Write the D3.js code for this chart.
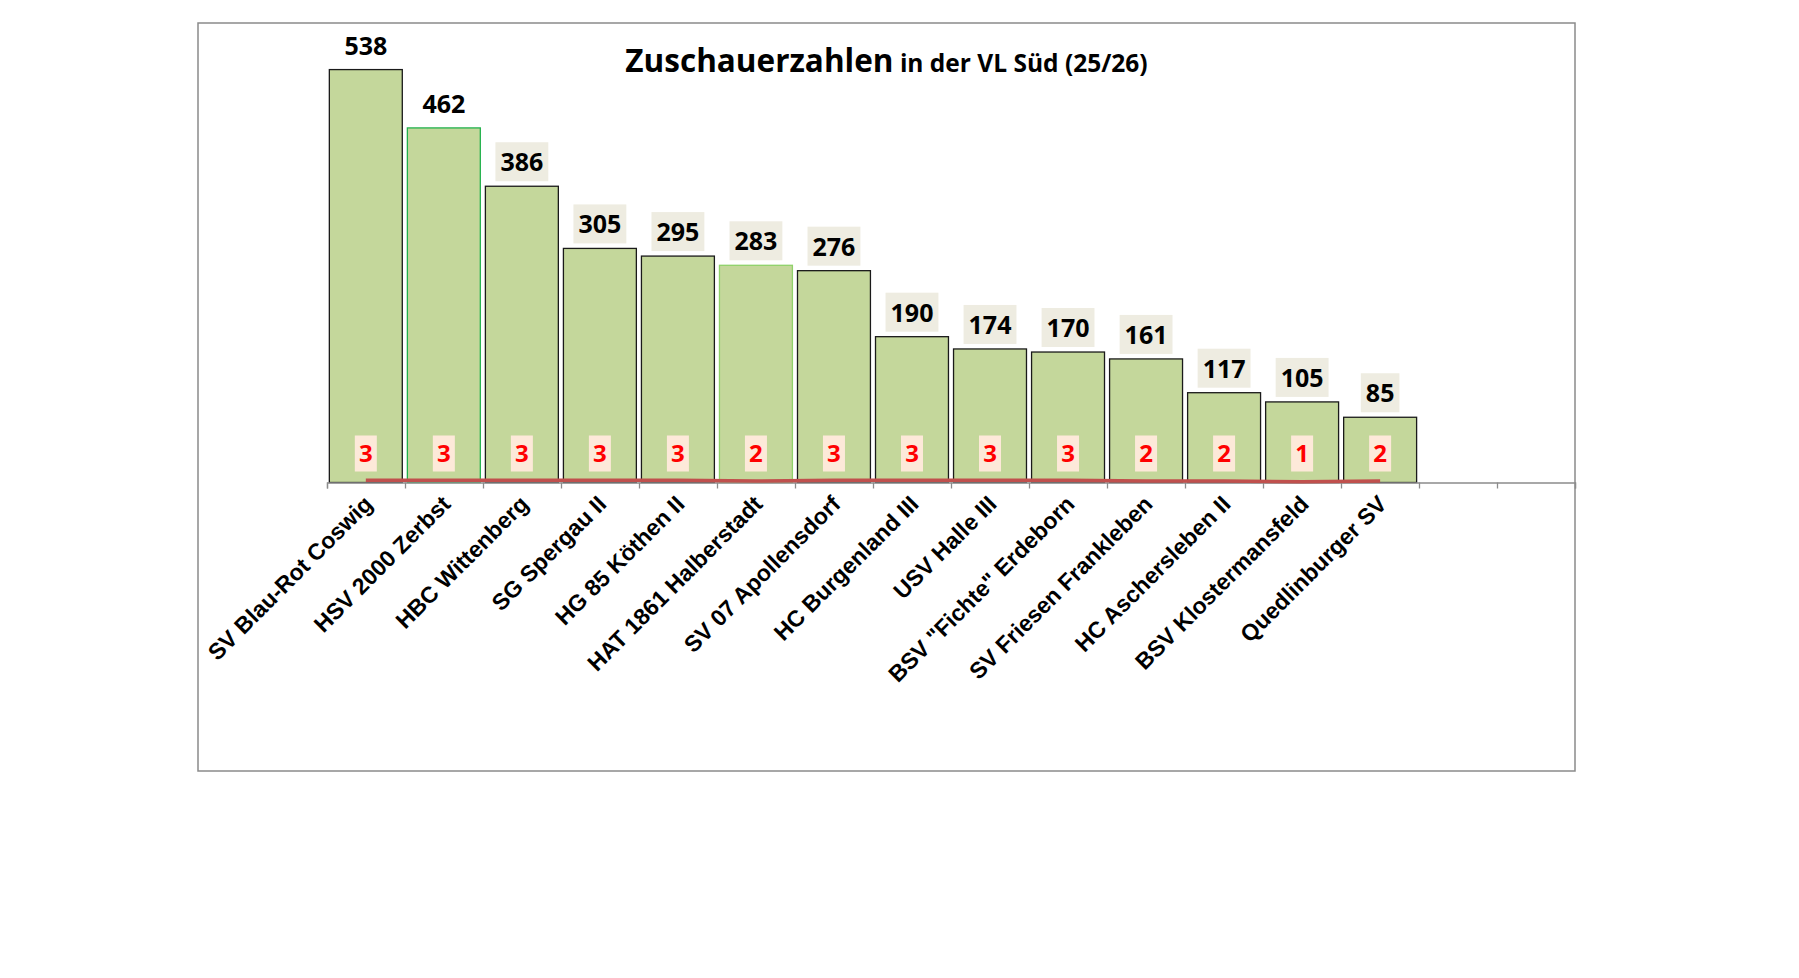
<!DOCTYPE html>
<html>
<head>
<meta charset="utf-8">
<title>Zuschauerzahlen VL Süd</title>
<script src="https://cdn.jsdelivr.net/npm/d3@7"></script>
<style>
    body { margin: 0; background: #fff; }
    svg { display: block; }
</style>
</head>
<body>
<div id="chart"></div>
<script>
// Data
const teams = [
    "SV Blau-Rot Coswig", "HSV 2000 Zerbst", "HBC Wittenberg", "SG Spergau II",
    "HG 85 Köthen II", "HAT 1861 Halberstadt", "SV 07 Apollensdorf", "HC Burgenland III",
    "USV Halle III", 'BSV "Fichte" Erdeborn', "SV Friesen Frankleben", "HC Aschersleben II",
    "BSV Klostermansfeld", "Quedlinburger SV"
];
const spectators = [538, 462, 386, 305, 295, 283, 276, 190, 174, 170, 161, 117, 105, 85];
const games = [3, 3, 3, 3, 3, 2, 3, 3, 3, 3, 2, 2, 1, 2];
const emptySlots = ["_e1", "_e2"];   // two unused category slots at the end of the axis

const width = 1799, height = 978;
const frame = { left: 198, top: 23, right: 1575, bottom: 771 };
const plot = { left: 327, right: 1575, top: 22, bottom: 482.5 };

const svg = d3.select("#chart").append("svg")
    .attr("width", width)
    .attr("height", height);

// Outer chart frame
svg.append("rect")
    .attr("x", frame.left)
    .attr("y", frame.top)
    .attr("width", frame.right - frame.left)
    .attr("height", frame.bottom - frame.top)
    .attr("fill", "#fff")
    .attr("stroke", "#8a8a8a")
    .attr("stroke-width", 1.5);

const x = d3.scaleBand()
    .domain(teams.concat(emptySlots))
    .range([plot.left, plot.right])
    .paddingInner(0.065)
    .paddingOuter(0.03);

const y = d3.scaleLinear()
    .domain([0, 600])
    .range([plot.bottom, plot.top]);

const data = teams.map((t, i) => ({ team: t, value: spectators[i], games: games[i], i: i }));

// Bars
const strokeFor = d => d.i === 1 ? "#22b14c" : (d.i === 5 ? "#8fd16a" : "#1a1a1a");

svg.append("g")
    .selectAll("rect")
    .data(data)
    .enter().append("rect")
    .attr("x", d => x(d.team))
    .attr("y", d => y(d.value))
    .attr("width", x.bandwidth())
    .attr("height", d => y(0) - y(d.value))
    .attr("fill", "#c4d79b")
    .attr("stroke", strokeFor)
    .attr("stroke-width", 1.3);

// Category axis: ticks sit on the category boundaries
const edge = d3.scaleLinear()
    .domain([0, x.domain().length])
    .range([plot.left, plot.right]);

const axis = svg.append("g")
    .attr("transform", `translate(0,${y(0)})`)
    .call(d3.axisBottom(edge).ticks(x.domain().length).tickSize(6).tickFormat(""));
axis.select(".domain").attr("stroke", "#8c8c8c").attr("stroke-width", 1.3);
axis.selectAll(".tick line").attr("stroke", "#8c8c8c").attr("stroke-width", 1.3);

// Rotated category labels
svg.append("g")
    .selectAll("text")
    .data(data)
    .enter().append("text")
    .attr("transform", d => `translate(${x(d.team) + x.bandwidth() / 2 + 8},${y(0) + 23}) rotate(-45)`)
    .attr("text-anchor", "end")
    .attr("font-family", "'Liberation Sans', Arial, sans-serif")
    .attr("font-weight", "bold")
    .attr("font-size", 23)
    .attr("fill", "#000")
    .text(d => d.team);

// Games line (second series) along the bottom
const line = d3.line()
    .x(d => x(d.team) + x.bandwidth() / 2)
    .y(d => y(d.games));

svg.append("path")
    .datum(data)
    .attr("d", line)
    .attr("fill", "none")
    .attr("stroke", "#c0504d")
    .attr("stroke-width", 3.5);

// Games labels (red, in pale boxes)
const gameLabels = svg.append("g")
    .selectAll("g")
    .data(data)
    .enter().append("g")
    .attr("transform", d => `translate(${x(d.team) + x.bandwidth() / 2},${y(0) - 29})`);

gameLabels.append("rect")
    .attr("x", -11)
    .attr("y", -18)
    .attr("width", 22)
    .attr("height", 36)
    .attr("fill", "#fde9d9");

gameLabels.append("text")
    .attr("text-anchor", "middle")
    .attr("y", 8.5)
    .attr("font-family", "'Open Sans', sans-serif")
    .attr("font-weight", "bold")
    .attr("font-size", 24)
    .attr("fill", "#ff0000")
    .text(d => d.games);

// Value labels above the bars
const valueLabels = svg.append("g")
    .selectAll("g")
    .data(data)
    .enter().append("g")
    .attr("transform", d => `translate(${x(d.team) + x.bandwidth() / 2},${y(d.value)})`);

const boxes = valueLabels.append("rect")
    .attr("fill", d => d.i < 2 ? "#ffffff" : "#eeece1");

const valueTexts = valueLabels.append("text")
    .attr("text-anchor", "middle")
    .attr("y", -15)
    .attr("font-family", "'Open Sans', sans-serif")
    .attr("font-weight", "bold")
    .attr("font-size", 25)
    .attr("fill", "#000")
    .text(d => d.value);

valueTexts.each(function(d, i) {
    const w = this.getComputedTextLength() + 10;
    d3.select(boxes.nodes()[i])
        .attr("x", -w / 2)
        .attr("y", -44)
        .attr("width", w)
        .attr("height", 39);
});

// Title
const title = svg.append("text")
    .attr("x", (frame.left + frame.right) / 2)
    .attr("y", 72)
    .attr("text-anchor", "middle")
    .attr("font-family", "'Open Sans', sans-serif")
    .attr("font-weight", "bold")
    .attr("fill", "#000");

title.append("tspan")
    .attr("font-size", 31.5)
    .text("Zuschauerzahlen");
title.append("tspan")
    .attr("font-size", 24.5)
    .text(" in der VL Süd (25/26)");
</script>
</body>
</html>
